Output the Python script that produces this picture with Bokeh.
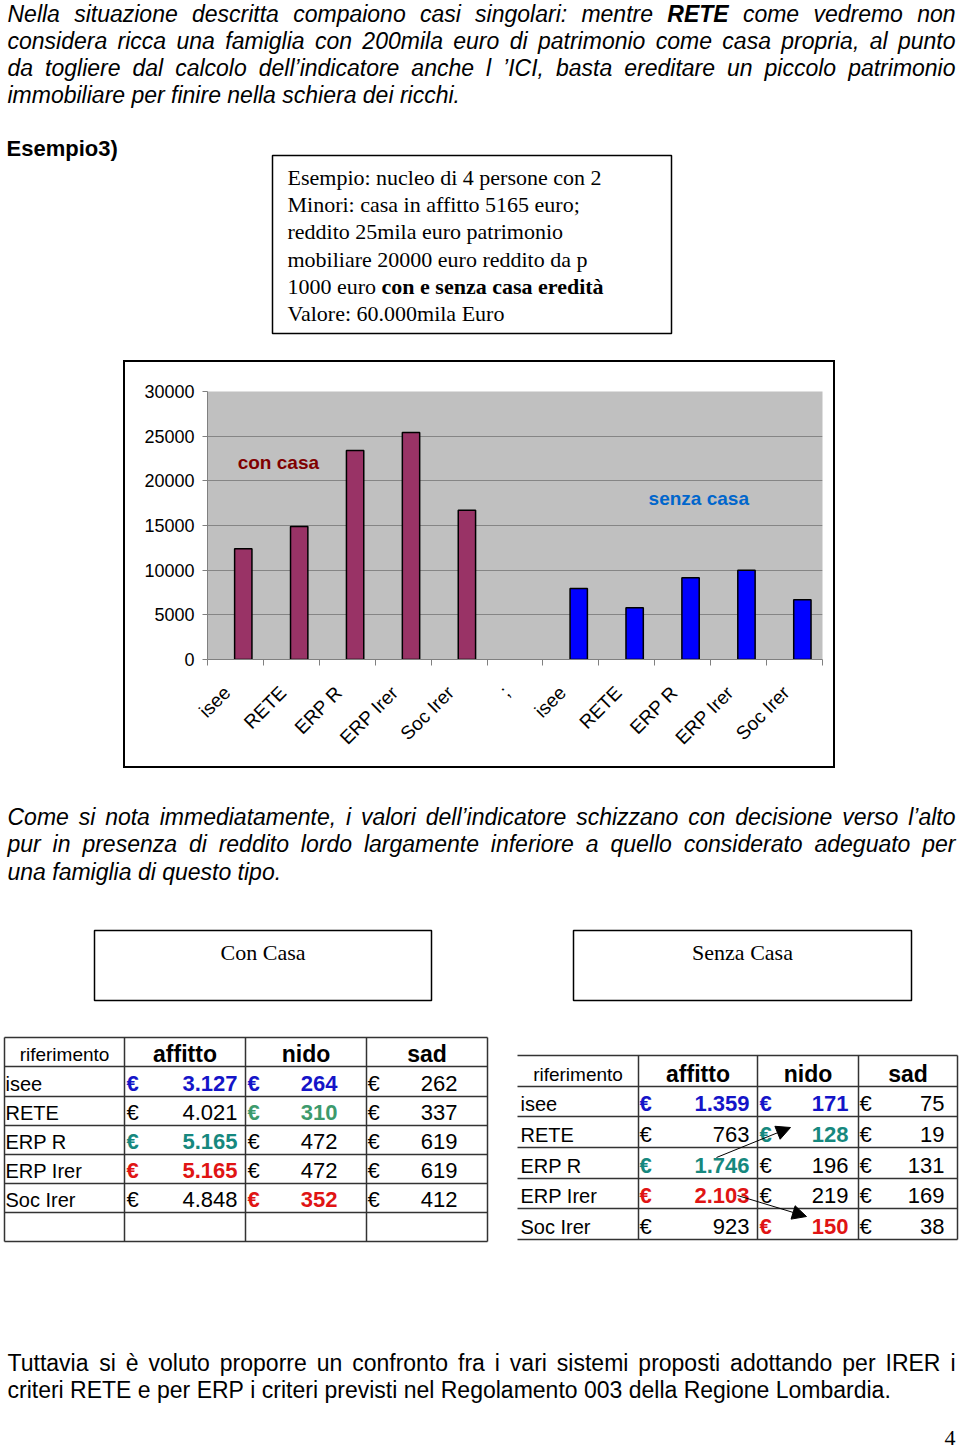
import math
from bokeh.plotting import figure
from bokeh.models import Range1d, FixedTicker, Label, Arrow, NormalHead, Spacer, ColumnDataSource
from bokeh.layouts import column, row
from bokeh.core.properties import value
from bokeh.embed import file_html
from bokeh.resources import INLINE
from bokeh.transform import dodge

# ---------------- data ----------------
categories = ["isee", "RETE", "ERP R", "ERP Irer", "Soc Irer"]
gap_label = ";"
con_casa = [12400, 14900, 23400, 25400, 16700]
senza_casa = [7950, 5800, 9150, 10000, 6700]
y_ticks = [0, 5000, 10000, 15000, 20000, 25000, 30000]

table_rows = ["isee", "RETE", "ERP R", "ERP Irer", "Soc Irer"]
table_cols = ["affitto", "nido", "sad"]
con_affitto = [3127, 4021, 5165, 5165, 4848]
con_nido = [264, 310, 472, 472, 352]
con_sad = [262, 337, 619, 619, 412]
senza_affitto = [1359, 763, 1746, 2103, 923]
senza_nido = [171, 128, 196, 219, 150]
senza_sad = [75, 19, 131, 169, 38]

para1 = [
    "Nella situazione descritta compaiono casi singolari: mentre **RETE** come vedremo non",
    "considera ricca una famiglia con 200mila euro di patrimonio come casa propria, al punto",
    "da togliere dal calcolo dell\u2019indicatore anche l \u2019ICI, basta ereditare un piccolo patrimonio",
    "immobiliare per finire nella schiera dei ricchi.",
]
para2 = [
    "Come si nota immediatamente, i valori dell\u2019indicatore schizzano con decisione verso l\u2019alto",
    "pur in presenza di reddito lordo largamente inferiore a quello considerato adeguato per",
    "una famiglia di questo tipo.",
]
para3 = [
    "Tuttavia si \u00e8 voluto proporre un confronto fra i vari sistemi proposti adottando per IRER i",
    "criteri RETE e per ERP i criteri previsti nel Regolamento 003 della Regione Lombardia.",
]
box_lines = [
    "Esempio: nucleo di 4 persone con 2",
    "Minori: casa in affitto 5165 euro;",
    "reddito 25mila euro patrimonio",
    "mobiliare 20000 euro reddito da p",
    "1000 euro ",
    "Valore: 60.000mila Euro",
]
box_bold = "con e senza casa eredit\u00e0"

# ---------------- styles ----------------
SANS = "Liberation Sans"
SERIF = "Liberation Serif"
BLUE = "#1414c8"
GREEN = "#3d9a6c"
TEAL = "#16887e"
RED = "#e01414"
con_highlight = {("affitto", 0): BLUE, ("affitto", 2): TEAL, ("affitto", 3): RED,
                 ("nido", 0): BLUE, ("nido", 1): GREEN, ("nido", 4): RED}
senza_highlight = {("affitto", 0): BLUE, ("affitto", 2): TEAL, ("affitto", 3): RED,
                   ("nido", 0): BLUE, ("nido", 1): TEAL, ("nido", 4): RED}

# Arial / Liberation Sans advance widths (1/1000 em)
W = {}
for chars, w in [("ijl\u2019", 222), ("'", 191), (" ft.,:;!I/", 278), ("r()-", 333),
                 ("cksvxyzJ", 500), ("abdeghnopqu0123456789\u00e8\u00e0\u00e9L\u00ec\u00f2\u00f9", 556),
                 ("FTZ", 611), ("ABEKPSVXY", 667), ("CDHNRUw", 722), ("GOQ", 778), ("mM", 833), ("W", 944)]:
    for c in chars:
        W[c] = w
WB = {"R": 722, "E": 667, "T": 611, " ": 278}
TIMES = {"0": 500, "1": 500, " ": 250, "e": 444, "u": 500, "r": 333, "o": 500}


def tw(s, size, bold=False):
    tab = WB if bold else W
    return sum(tab.get(c, W.get(c, 556)) for c in s) * size / 1000.0


def draw_paragraph(p, lines, x0, x1, y0, dy, size, style):
    for k, line in enumerate(lines):
        words = []
        for w in line.split(" "):
            if w.startswith("**"):
                words.append((w.strip("*"), True))
            else:
                words.append((w, False))
        widths = [tw(w, size, b) for w, b in words]
        if k < len(lines) - 1 and len(words) > 1:
            gap = (x1 - x0 - sum(widths)) / (len(words) - 1)
        else:
            gap = tw(" ", size)
        xs, x = [], x0
        for wd in widths:
            xs.append(x)
            x += wd + gap
        y = y0 + k * dy
        reg = [(xx, w) for xx, (w, b) in zip(xs, words) if not b]
        bld = [(xx, w) for xx, (w, b) in zip(xs, words) if b]
        if reg:
            p.text(x=[r[0] for r in reg], y=[y] * len(reg), text=[r[1] for r in reg],
                   text_font=value(SANS), text_font_style=style, text_font_size=f"{size}px",
                   text_baseline="middle", text_align="left", text_color="black")
        if bld:
            p.text(x=[r[0] for r in bld], y=[y] * len(bld), text=[r[1] for r in bld],
                   text_font=value(SANS),
                   text_font_style="bold italic" if style == "italic" else "bold",
                   text_font_size=f"{size}px", text_baseline="middle", text_align="left",
                   text_color="black")


def page_fig(h, y_top):
    f = figure(width=960, height=h, x_range=Range1d(0, 960), y_range=Range1d(y_top + h, y_top),
               output_backend="svg", toolbar_location=None, x_axis_type=None, y_axis_type=None,
               min_border=0, outline_line_color=None)
    return f


# ---------------- top part ----------------
top = page_fig(360, 0)
draw_paragraph(top, para1, 7, 955, 13.5, 27, 23, "italic")
top.text(x=[6], y=[148], text=["Esempio3)"], text_font=value(SANS), text_font_style="bold",
         text_font_size="22px", text_baseline="middle", text_align="left")
top.quad(left=[272], right=[671], top=[155], bottom=[333], fill_color=None,
         line_color="black", line_width=1.5)
box_y = [177 + 27.2 * k for k in range(len(box_lines))]
top.text(x=[287] * len(box_lines), y=box_y, text=box_lines, text_font=value(SERIF),
         text_font_size="22px", text_baseline="middle", text_align="left")
top.text(x=[287 + sum(TIMES.get(c, 500) for c in box_lines[4]) * 22 / 1000.0], y=[box_y[4]],
         text=[box_bold], text_font=value(SERIF), text_font_style="bold", text_font_size="22px",
         text_baseline="middle", text_align="left")

# ---------------- chart ----------------
axis_labels = categories + [gap_label] + categories
con_x = list(range(len(categories)))
senza_x = [i + len(categories) + 1 for i in range(len(categories))]

chart = figure(width=708, height=404, x_range=Range1d(-0.5, len(axis_labels) - 0.5),
               y_range=Range1d(y_ticks[0], y_ticks[-1]), output_backend="svg",
               toolbar_location=None, min_border_left=82, min_border_right=11,
               min_border_top=29, min_border_bottom=107, background_fill_color="#c0c0c0",
               border_fill_color="white", outline_line_color=None)
src_con = ColumnDataSource(dict(x=con_x, top=con_casa, cat=categories))
src_senza = ColumnDataSource(dict(x=senza_x, top=senza_casa, cat=categories))
chart.vbar(x=dodge("x", 0.14), top="top", width=0.31, source=src_con,
           fill_color="#993366", line_color="black", line_width=1.5)
chart.vbar(x=dodge("x", 0.14), top="top", width=0.31, source=src_senza,
           fill_color="#0000ff", line_color="black", line_width=1.5)

label_shift = 0.15  # rotated labels end slightly left of the category centre
label_pos = [i - label_shift for i in range(len(axis_labels))]
xa = chart.xaxis[0]
xa.ticker = FixedTicker(ticks=label_pos,
                        minor_ticks=[i - 0.5 for i in range(len(axis_labels) + 1)])
xa.major_label_overrides = {pos: lab for pos, lab in zip(label_pos, axis_labels)}
xa.major_label_orientation = math.pi / 4
xa.major_tick_line_color = None
xa.major_tick_out = 0
xa.major_tick_in = 0
xa.minor_tick_line_color = "#808080"
xa.minor_tick_out = 6
xa.minor_tick_in = 0
xa.axis_line_color = "#808080"
xa.major_label_text_font = SANS
xa.major_label_text_font_size = "19px"
xa.major_label_text_color = "black"
xa.major_label_standoff = 24

ya = chart.yaxis[0]
ya.ticker = FixedTicker(ticks=y_ticks)
ya.axis_line_color = "#808080"
ya.major_tick_line_color = "#808080"
ya.major_tick_out = 5
ya.major_tick_in = 0
ya.minor_tick_line_color = None
ya.major_label_text_font = SANS
ya.major_label_text_font_size = "18px"
ya.major_label_text_color = "black"
ya.major_label_standoff = 8

chart.xgrid.visible = False
chart.ygrid.grid_line_color = "#858585"

chart.add_layout(Label(x=0.04, y=22050, text="con casa", text_font=SANS, text_font_style="bold",
                       text_font_size="19px", text_color="#800000", text_baseline="middle"))
chart.add_layout(Label(x=7.39, y=18020, text="senza casa", text_font=SANS, text_font_style="bold",
                       text_font_size="19px", text_color="#0066cc", text_baseline="middle"))


def black_bar(w, h):
    return Spacer(width=w, height=h, styles={"background-color": "black"})


chart_box = column(black_bar(712, 2),
                   row(black_bar(2, 404), chart, black_bar(2, 404)),
                   black_bar(712, 2))
middle = row(Spacer(width=123, height=408), chart_box, Spacer(width=125, height=408))

# ---------------- bottom part ----------------
bot = page_fig(680, 768)
draw_paragraph(bot, para2, 7, 955, 816, 27.5, 23, "italic")

for (l, r), title in [((94, 431), "Con Casa"), ((573, 911), "Senza Casa")]:
    bot.quad(left=[l], right=[r], top=[930], bottom=[1000], fill_color=None,
             line_color="black", line_width=1.5)
    bot.text(x=[(l + r) / 2], y=[952], text=[title], text_font=value(SERIF),
             text_font_size="22px", text_baseline="middle", text_align="center")


def fmt(v):
    return f"{v:,}".replace(",", ".")


def draw_table(p, xl, yl, data, highlight, euro_x, num_right, label_x, left_border):
    x0s, y0s, x1s, y1s = [], [], [], []
    for i, x in enumerate(xl):
        if i == 0 and not left_border:
            continue
        x0s.append(x); y0s.append(yl[0]); x1s.append(x); y1s.append(yl[-1])
    for y in yl:
        x0s.append(xl[0]); y0s.append(y); x1s.append(xl[-1]); y1s.append(y)
    p.segment(x0=x0s, y0=y0s, x1=x1s, y1=y1s, line_color="#333333", line_width=1.5)
    hy = yl[1] - 13
    p.text(x=[(xl[0] + xl[1]) / 2], y=[hy + 1], text=["riferimento"], text_font=value(SANS),
           text_font_size="19px", text_baseline="middle", text_align="center")
    p.text(x=[(xl[j + 1] + xl[j + 2]) / 2 for j in range(len(table_cols))], y=[hy] * len(table_cols),
           text=table_cols, text_font=value(SANS), text_font_style="bold", text_font_size="23px",
           text_baseline="middle", text_align="center")
    for i, name in enumerate(table_rows):
        yc = yl[i + 2] - 13
        p.text(x=[label_x], y=[yc], text=[name], text_font=value(SANS), text_font_size="20px",
               text_baseline="middle", text_align="left")
        for j, col in enumerate(table_cols):
            color = highlight.get((col, i))
            style = "bold" if color else "normal"
            color = color or "black"
            p.text(x=[euro_x[j]], y=[yc], text=["\u20ac"], text_font=value(SANS),
                   text_font_style=style, text_font_size="22px", text_color=color,
                   text_baseline="middle", text_align="left")
            p.text(x=[num_right[j]], y=[yc], text=[fmt(data[j][i])], text_font=value(SANS),
                   text_font_style=style, text_font_size="22px", text_color=color,
                   text_baseline="middle", text_align="right")


draw_table(bot, [4, 124, 245, 366, 487], [1037, 1066, 1096, 1125, 1154, 1183, 1212, 1241],
           [con_affitto, con_nido, con_sad], con_highlight, [126, 247, 367], [237, 337, 457], 5, True)
draw_table(bot, [517, 638, 757, 858, 957], [1055, 1086, 1116, 1147, 1178, 1208, 1239],
           [senza_affitto, senza_nido, senza_sad], senza_highlight, [639, 759, 859], [749, 848, 944],
           520, False)

bot.add_layout(Arrow(end=NormalHead(size=14, fill_color="black", line_color="black"),
                     x_start=716, y_start=1157, x_end=790, y_end=1127, line_width=1))
bot.add_layout(Arrow(end=NormalHead(size=14, fill_color="black", line_color="black"),
                     x_start=737, y_start=1195, x_end=806, y_end=1216, line_width=1))

draw_paragraph(bot, para3, 7, 955, 1362, 27, 23, "normal")
bot.text(x=[955], y=[1437], text=["4"], text_font=value(SERIF), text_font_size="22px",
         text_baseline="middle", text_align="right")

page = column(top, middle, bot)
open("out.html", "w").write(file_html(page, INLINE))
